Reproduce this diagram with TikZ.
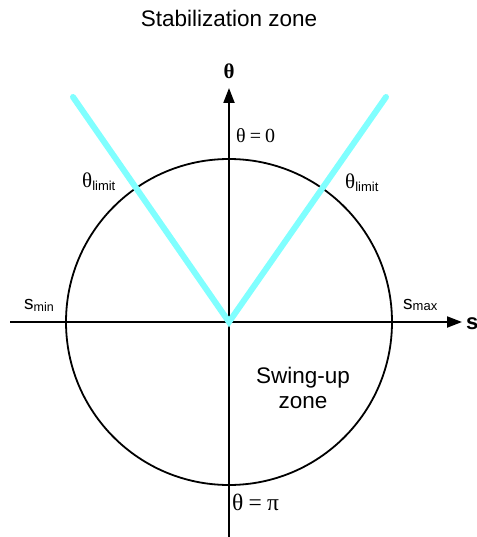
\documentclass[tikz,border=0pt]{standalone}
\usepackage{fontspec}
\setmainfont{Liberation Serif}
\newfontfamily\arialf{Liberation Sans}
\usetikzlibrary{arrows.meta}
\definecolor{lcyan}{RGB}{128,255,255}
\begin{document}
\begin{tikzpicture}[x=1pt,y=-1pt,
  axis/.style={line width=2pt,-{Triangle[length=15pt,width=11pt]}},
  lbl/.style={inner sep=0pt,anchor=base west},
  sanslbl/.style={inner sep=0pt,anchor=base,font=\arialf\fontsize{22.5}{26}\selectfont},
  limitline/.style={draw=lcyan,line width=6pt,line cap=round}]
\useasboundingbox (0,0) rectangle (476,537);
\coordinate (O) at (229,322);
\coordinate (xl) at (10,322);
\coordinate (xr) at (462,322);
\coordinate (yb) at (229,540);
\coordinate (yt) at (229,88);
\coordinate (L) at (73,97);
\coordinate (R) at (386,97);
\draw[line width=1.8pt] (O) circle[radius=163];
\draw[axis] (xl) -- (xr);
\draw[axis] (yb) -- (yt);
\draw[limitline] (L) -- (O) -- (R);
\node[sanslbl] (title) at (229,27) {Stabilization zone};
\node[inner sep=0pt,anchor=base,font=\bfseries\fontsize{21}{24}\selectfont] (thlab) at (229,79) {θ};
\node[inner sep=0pt,anchor=west,font=\arialf\bfseries\fontsize{22}{24}\selectfont] (slab) at (466,324) {s};
\node[lbl,font=\fontsize{20}{22}\selectfont] (th0) at (236,143) {θ\hspace{0.2em}=\hspace{0.2em}0};
\node[lbl,font=\fontsize{23.5}{26}\selectfont] (thpi) at (232,510) {θ\hspace{0.22em}=\hspace{0.22em}π};
\node[lbl,font=\fontsize{21}{24}\selectfont] (tl1) at (82,188) {θ\raisebox{-3pt}{\arialf\fontsize{13}{14}\selectfont limit}};
\node[lbl,font=\fontsize{21}{24}\selectfont] (tl2) at (345,189) {θ\raisebox{-3pt}{\arialf\fontsize{13}{14}\selectfont limit}};
\node[lbl,font=\arialf\fontsize{19}{22}\selectfont] (smin) at (24,309) {s\raisebox{-2pt}{\fontsize{12.5}{14}\selectfont min}};
\node[lbl,font=\arialf\fontsize{19}{22}\selectfont] (smax) at (403,309) {s\raisebox{-1pt}{\fontsize{13}{14}\selectfont max}};
\node[sanslbl] (sw1) at (303,383) {Swing-up};
\node[sanslbl] (sw2) at (303,408) {zone};
\end{tikzpicture}
\end{document}
